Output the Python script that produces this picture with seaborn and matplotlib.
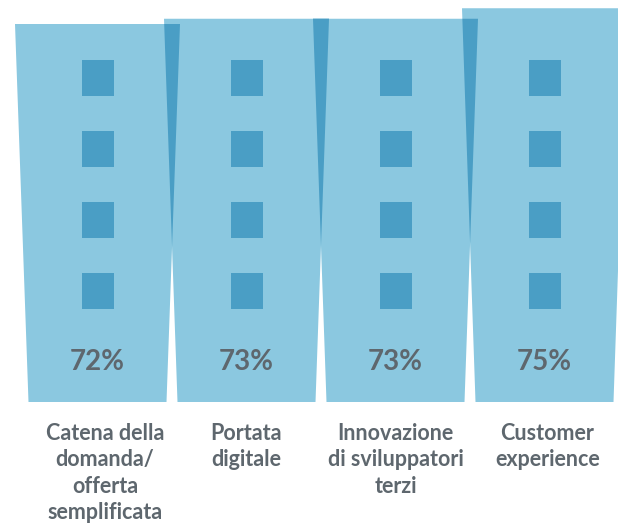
import numpy as np
import matplotlib
import matplotlib.pyplot as plt
import seaborn as sns
from matplotlib.patches import Polygon, Rectangle

matplotlib.use('Agg')

categories = ["Catena della\ndomanda/\nofferta\nsemplificata",
              "Portata\ndigitale",
              "Innovazione\ndi sviluppatori\nterzi",
              "Customer\nexperience"]
values = [72, 73, 73, 75]
value_labels = ["72%", "73%", "73%", "75%"]

light = "#8BC8E0"
dark = "#4A9EC5"
text_col = "#5E676E"

sns.set_style("white")
plt.rcParams['font.family'] = ['Lato', 'DejaVu Sans']

fig = plt.figure(figsize=(6.18, 5.23), dpi=100)
# axes: baseline at 402 px from the top, full width
ax = fig.add_axes([0, 121 / 523, 1, 402 / 523])

bottom_w = 138 / 149
top_w = 165 / 149
sns.barplot(x=list(range(len(values))), y=values, width=bottom_w,
            color=light, ax=ax, native_scale=True)
ax.set_xlim(-97.5 / 149, (618 - 97.5) / 149)
ax.set_ylim(0, 402 / 5.25)
ax.axis('off')

# turn seaborn's rectangles into tapered buildings
shapes = []
for p in list(ax.patches):
    if not isinstance(p, Rectangle):
        continue
    cx = p.get_x() + p.get_width() / 2
    h = p.get_height()
    p.set_visible(False)
    pts = [(cx - bottom_w / 2, 0), (cx + bottom_w / 2, 0),
           (cx + top_w / 2, h), (cx - top_w / 2, h)]
    shapes.append((cx, h))
    ax.add_patch(Polygon(pts, closed=True, facecolor=light, edgecolor='none', zorder=2))

# darker overlap between neighbouring buildings
for (c1, h1), (c2, h2) in zip(shapes[:-1], shapes[1:]):
    top = min(h1, h2)
    # right edge of left bar, left edge of right bar, as x(y)
    r = lambda y: c1 + bottom_w / 2 + (top_w - bottom_w) / 2 * y / h1
    l = lambda y: c2 - bottom_w / 2 - (top_w - bottom_w) / 2 * y / h2
    # crossing point
    ys = np.linspace(0, top, 2001)
    diff = r(ys) - l(ys)
    yc = ys[np.argmax(diff > 0)]
    tri = [(l(top), top), (r(top), top), (r(yc), yc)]
    ax.add_patch(Polygon(tri, closed=True, facecolor=dark, edgecolor='none', zorder=3))

# windows
win_w = 32 / 149
win_h = 36 / 5.25
win_rows = [17.7, 31.2, 44.8, 58.3]
for cx, h in shapes:
    for yb in win_rows:
        ax.add_patch(Rectangle((cx - win_w / 2, yb), win_w, win_h,
                               facecolor=dark, edgecolor='none', zorder=4))

label_dx = [0.05, 0, 0, 0.02]
for (cx, h), lab, cat, dx in zip(shapes, value_labels, categories, label_dx):
    ax.text(cx, 7.6, lab, ha='center', va='center', fontsize=20,
            fontweight='bold', color=text_col, zorder=5)
    ax.text(cx + dx, -4.0, cat, ha='center', va='top', fontsize=15.5,
            fontweight='bold', color=text_col, linespacing=1.32, clip_on=False)

fig.savefig("out.png", dpi=100)
